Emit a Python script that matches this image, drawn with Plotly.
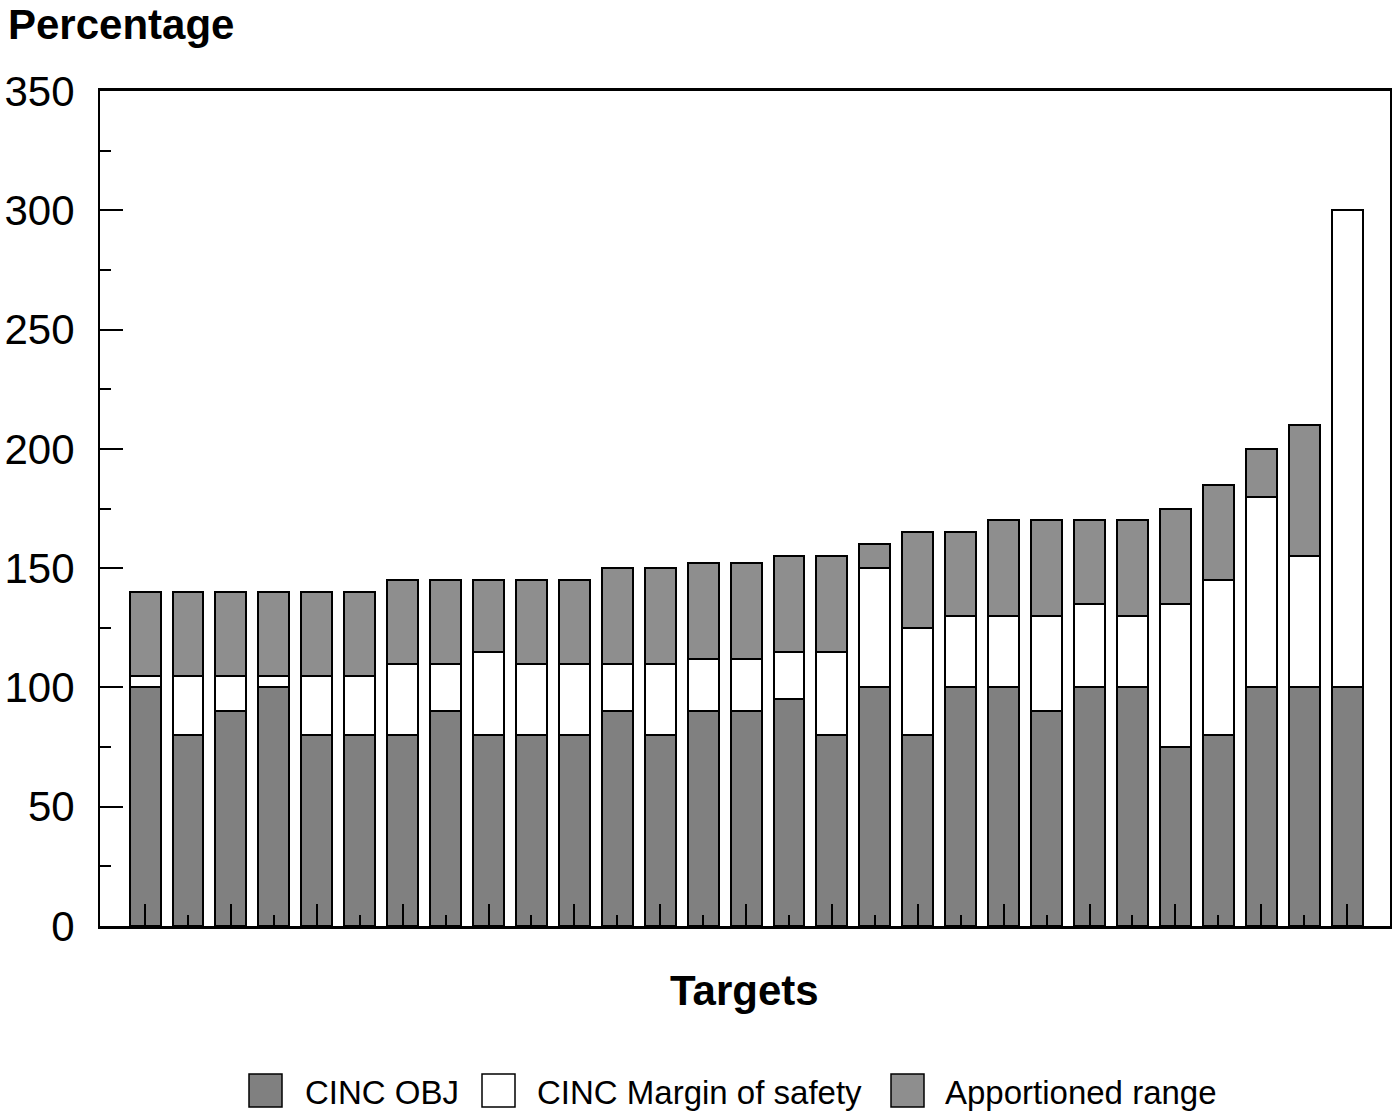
import plotly.graph_objects as go

targets = list(range(1, 30))
cinc_obj = [100, 80, 90, 100, 80, 80, 80, 90, 80, 80, 80, 90, 80, 90, 90, 95, 80, 100, 80, 100, 100, 90, 100, 100, 75, 80, 100, 100, 100]
margin_top = [105, 105, 105, 105, 105, 105, 110, 110, 115, 110, 110, 110, 110, 112, 112, 115, 115, 150, 125, 130, 130, 130, 135, 130, 135, 145, 180, 155, 300]
total_top = [140, 140, 140, 140, 140, 140, 145, 145, 145, 145, 145, 150, 150, 152, 152, 155, 155, 160, 165, 165, 170, 170, 170, 170, 175, 185, 200, 210, 300]

series_names = ["CINC OBJ", "CINC Margin of safety", "Apportioned range"]
series_colors = ["#808080", "#ffffff", "#8e8e8e"]

margin = [m - o for m, o in zip(margin_top, cinc_obj)]
apportioned = [t - m for t, m in zip(total_top, margin_top)]
series_values = [cinc_obj, margin, apportioned]

FONT = "Liberation Sans, Arial, sans-serif"
W, H = 1396, 1113
ML, MT = 100, 91
MR = W - 1390
MB = H - 926
PW, PH = W - ML - MR, H - MT - MB


def px_x(p):
    return (p - ML) / PW


def px_y(p):
    return (H - MB - p) / PH


line = dict(color="black", width=2)

fig = go.Figure()
for name, col, vals in zip(series_names, series_colors, series_values):
    fig.add_bar(x=targets, y=vals, name=name, marker=dict(color=col, line=line), width=0.72)

# manual legend (large swatches like the reference)
legend_box_x = [249, 482, 891]
legend_text_x = [303, 535, 943]
shapes = []
annotations = []
for name, col, bx, tx in zip(series_names, series_colors, legend_box_x, legend_text_x):
    shapes.append(dict(type="rect", xref="paper", yref="paper",
                       x0=px_x(bx), x1=px_x(bx + 33), y0=px_y(1107), y1=px_y(1074),
                       fillcolor=col, line=dict(color="black", width=1.5)))
    annotations.append(dict(text=name, xref="paper", yref="paper", x=px_x(tx), y=px_y(1092),
                            xanchor="left", yanchor="middle", showarrow=False,
                            font=dict(size=33, family=FONT, color="black")))

annotations += [
    dict(text="<b>Percentage</b>", xref="paper", yref="paper", x=px_x(6), y=px_y(24),
         xanchor="left", yanchor="middle", showarrow=False, font=dict(size=42, family=FONT)),
    dict(text="<b>Targets</b>", xref="paper", yref="paper", x=px_x(744), y=px_y(990),
         xanchor="center", yanchor="middle", showarrow=False, font=dict(size=42, family=FONT)),
]

fig.update_layout(
    barmode="stack",
    width=W, height=H,
    margin=dict(l=ML, r=MR, t=MT, b=MB, autoexpand=False),
    plot_bgcolor="white", paper_bgcolor="white",
    font=dict(family=FONT, color="black"),
    showlegend=False,
    shapes=shapes,
    annotations=annotations,
)
fig.update_xaxes(
    range=[-0.05, 30], showgrid=False, zeroline=False, automargin=False,
    showline=True, linecolor="black", linewidth=2.5, mirror=True,
    tickmode="array", tickvals=targets[::2], ticks="inside", ticklen=22, tickcolor="black", tickwidth=1.5,
    showticklabels=False,
    minor=dict(tickmode="array", tickvals=targets[1::2], ticks="inside", ticklen=11,
               tickcolor="black", tickwidth=1.5),
)
fig.update_yaxes(
    range=[0, 350], showgrid=False, zeroline=False, automargin=False,
    showline=True, linecolor="black", linewidth=2, mirror=True,
    tickmode="linear", tick0=0, dtick=50, ticks="inside", ticklen=23, tickcolor="black", tickwidth=1.5,
    tickfont=dict(size=42, family=FONT), ticklabelstandoff=15,
    minor=dict(dtick=25, ticks="inside", ticklen=11, tickcolor="black", tickwidth=1.5),
)

fig.write_html(
    "out.html",
    config={"displayModeBar": False},
    post_script="document.body.style.margin='0';document.body.style.overflow='hidden';",
)
